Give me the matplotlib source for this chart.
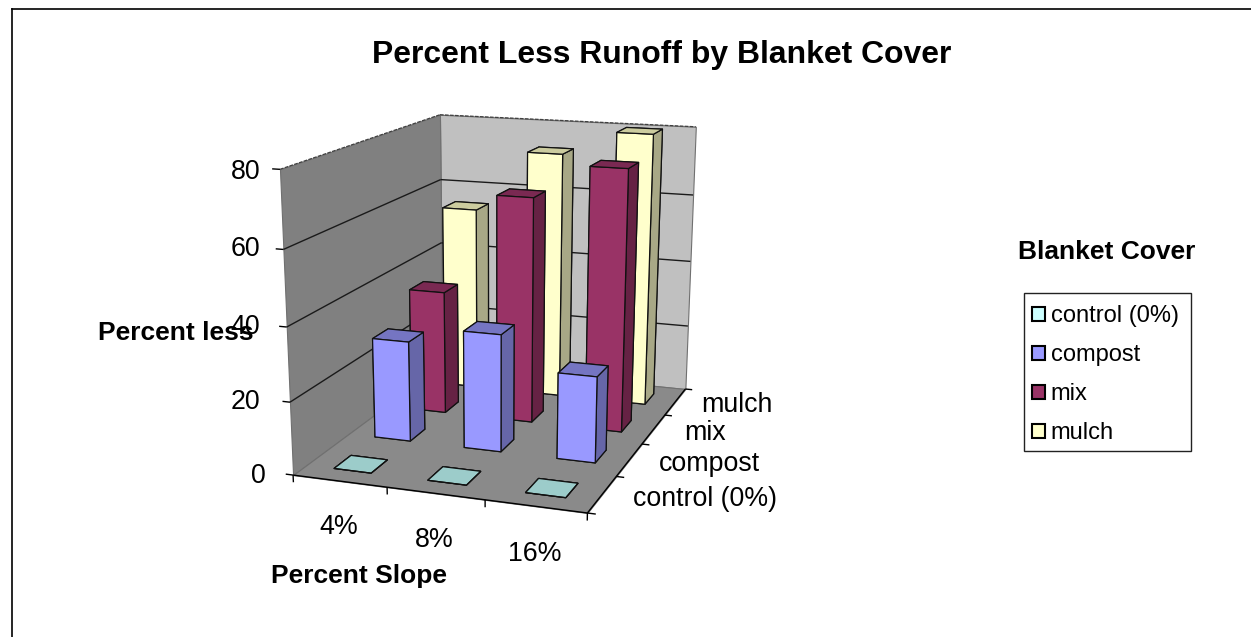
import numpy as np
import matplotlib
matplotlib.use("Agg")
import matplotlib.pyplot as plt
from matplotlib.lines import Line2D
from matplotlib.patches import Patch, Rectangle
from mpl_toolkits.mplot3d.art3d import Poly3DCollection, Line3DCollection

plt.rcParams['font.family'] = ['Liberation Sans', 'DejaVu Sans']

# data
slopes = ['4%', '8%', '16%']
covers = ['control (0%)', 'compost', 'mix', 'mulch']
control = [0, 0, 0]
compost = [28.5, 33, 24]
mix = [36, 65, 74.5]
mulch = [55, 73, 80]
z_ticks = [0, 20, 40, 60, 80]

# front, top and side shades for each series
control_cols = ['#CCFFFF', '#9CCCCA', '#7A9C9C']
compost_cols = ['#9999FF', '#7575C2', '#6666A8']
mix_cols = ['#993366', '#7A2952', '#662244']
mulch_cols = ['#FFFFCC', '#CCCC9F', '#A8A886']

W, H = 1251, 637
n_x, n_y, z_top = len(slopes), len(covers), z_ticks[-1]
bar_w = 0.4

# where corners of the plot box land on the canvas, in pixels from top left
box_world = [(0, 0, 0), (n_x, 0, 0), (n_x, n_y, 0), (0, n_y, 0),
             (0, 0, z_top), (0, n_y, z_top), (n_x, n_y, z_top)]
box_pix = [(292.5, 473.5), (588, 514), (685, 388), (443, 366),
           (280, 170), (440, 114), (695.7, 127)]

fig = plt.figure(figsize=(W / 100, H / 100), dpi=100)
# a square axes wider than the figure height so nothing gets clipped
ax = fig.add_axes([0, -0.5, 1, 2], projection='3d', computed_zorder=False)
ax.set_axis_off()
ax.patch.set_visible(False)
ax.apply_aspect()


def fit_projection():
    # solve a camera matrix from the box corners
    inv = ax.transData.inverted()
    rows, rhs = [], []
    for (x, y, z), (px, py) in zip(box_world, box_pix):
        u, v = inv.transform((px, H - py))
        rows.append([x, y, z, 1, 0, 0, 0, 0, -u * x, -u * y, -u * z])
        rhs.append(u)
        rows.append([0, 0, 0, 0, x, y, z, 1, -v * x, -v * y, -v * z])
        rhs.append(v)
    p = np.linalg.lstsq(np.array(rows), np.array(rhs), rcond=None)[0]
    return np.array([[p[0], p[1], p[2], p[3]],
                     [p[4], p[5], p[6], p[7]],
                     [-0.1, 0.3, -0.002, 0.0],
                     [p[8], p[9], p[10], 1.0]])


proj = fit_projection()
ax.get_proj = lambda: proj


def add_lines(segs, color, lw, zorder, ls='solid'):
    ax.add_collection3d(Line3DCollection(segs, colors=color, linewidths=lw,
                                         linestyles=ls, zorder=zorder))


# walls and floor
left_wall = [(0, 0, 0), (0, n_y, 0), (0, n_y, z_top), (0, 0, z_top)]
back_wall = [(0, n_y, 0), (n_x, n_y, 0), (n_x, n_y, z_top), (0, n_y, z_top)]
floor = [(0, 0, 0), (n_x, 0, 0), (n_x, n_y, 0), (0, n_y, 0)]
for verts, col in [(back_wall, '#C0C0C0'), (left_wall, '#808080'), (floor, '#8A8A8A')]:
    ax.add_collection3d(Poly3DCollection([verts], facecolors=col, edgecolors='#707070',
                                         linewidths=0.8, zorder=1))

# gridlines
grid = []
for z in z_ticks[1:-1]:
    grid.append([(0, 0, z), (0, n_y, z)])
    grid.append([(0, n_y, z), (n_x, n_y, z)])
add_lines(grid, '#1a1a1a', 1.0, 2)
add_lines([[(0, 0, z_top), (0, n_y, z_top)], [(0, n_y, z_top), (n_x, n_y, z_top)]],
          '#404040', 0.9, 2, ls=(0, (3, 1)))

# outer edges and tick marks
ticks = [[(0, 0, 0), (n_x, 0, 0)], [(n_x, 0, 0), (n_x, n_y, 0)]]
for z in z_ticks:
    ticks.append([(0, 0, z), (-0.08, 0, z)])
for i in range(n_x + 1):
    ticks.append([(i, 0, 0), (i, 0, -2)])
for j in range(n_y + 1):
    ticks.append([(n_x, j, 0), (n_x + 0.08, j, 0)])
add_lines(ticks, 'black', 1.0, 3)

# bars, back row first
rows = [(3, mulch, mulch_cols), (2, mix, mix_cols), (1, compost, compost_cols), (0, control, control_cols)]
order = 4
for r, vals, cols in rows:
    front, top, side = cols
    for i, v in enumerate(vals):
        # bottom, top, front, back, left, right
        faces = [side, top, front, side, side, side]
        if v == 0:
            faces = [top] * 6
        ax.bar3d(i + 0.5 - bar_w / 2, r + 0.5 - bar_w / 2, 0, bar_w, bar_w, v, color=faces,
                 shade=False, edgecolor='#111111', linewidth=0.9, zorder=order)
        order += 1

# text
fig.text(662 / W, 1 - 55 / H, 'Percent Less Runoff by Blanket Cover', fontsize=22.95,
         fontweight='bold', ha='center', va='center')
for z, py, right in zip(z_ticks, [476, 402, 327, 249, 172], [266, 260, 260, 260, 260]):
    fig.text(right / W, 1 - py / H, str(z), fontsize=19.3, ha='right', va='center')
for lab, px, py in zip(slopes, [339, 434, 535], [527, 540, 554]):
    fig.text(px / W, 1 - py / H, lab, fontsize=19.3, ha='center', va='center')
for lab, px, py in zip(covers, [633, 659, 684, 701], [499, 464, 433, 405]):
    fig.text(px / W, 1 - py / H, lab, fontsize=19.3, ha='left', va='center')
fig.text(176 / W, 1 - 333 / H, 'Percent less', fontsize=19, fontweight='bold', ha='center', va='center')
fig.text(359 / W, 1 - 576 / H, 'Percent Slope', fontsize=19, fontweight='bold', ha='center', va='center')
fig.text(1107 / W, 1 - 252 / H, 'Blanket Cover', fontsize=19, fontweight='bold', ha='center', va='center')

# legend, with its frame drawn apart from the entries
fig.add_artist(Rectangle((1024 / W, 1 - 451 / H), 167 / W, 158 / H, transform=fig.transFigure,
                         facecolor='white', edgecolor='#222222', linewidth=1.0))
handles = [Patch(facecolor=c[0], edgecolor='black', linewidth=1.5)
           for c in [control_cols, compost_cols, mix_cols, mulch_cols]]
fig.legend(handles, covers, loc='upper left', bbox_to_anchor=(1032 / W, 1 - 305.4 / H),
           borderaxespad=0, fontsize=17, handlelength=0.55, handleheight=0.55,
           handletextpad=0.25, labelspacing=0.72, borderpad=0, frameon=False)

# page border
fig.add_artist(Line2D([12.5 / W, 12.5 / W], [0, 1 - 9 / H], color='black', lw=1.2))
fig.add_artist(Line2D([12 / W, 1], [1 - 9 / H, 1 - 9 / H], color='black', lw=1.2))

fig.savefig('out.png', dpi=100)
